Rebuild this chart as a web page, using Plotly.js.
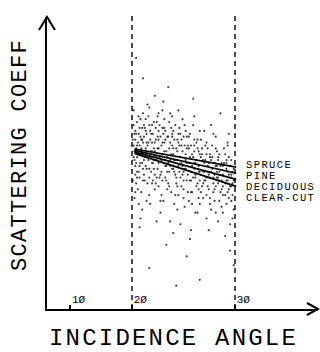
<!DOCTYPE html>
<html>
<head>
<meta charset="utf-8">
<script src="https://cdn.plot.ly/plotly-3.0.1.min.js"></script>
<style>
html,body{margin:0;padding:0;background:#fff;}
#chart{width:320px;height:352px;}
text.annotation-text{letter-spacing:1.4px;}
text.annotation-text[data-unformatted="INCIDENCE ANGLE"]{letter-spacing:2.2px;}
text.annotation-text[data-unformatted="SCATTERING COEFF"]{letter-spacing:1.3px;}
</style>
</head>
<body>
<div id="chart"></div>
<script>
// Tick positions (incidence angle, degrees) and labels
const tickAngles = [10, 20, 30];
const tickLabels = ['1Ø', '2Ø', '3Ø'];
const xTitle = 'INCIDENCE ANGLE';
const yTitle = 'SCATTERING COEFF';

// Regression lines: incidence angle endpoints and scattering coefficient (arbitrary units)
const lineAngles = [20.3, 30.1];
const seriesNames = ['SPRUCE', 'PINE', 'DECIDUOUS', 'CLEAR-CUT'];
const spruce = [54.8, 48.6];
const pine = [54.3, 46.5];
const deciduous = [53.8, 44.4];
const clearCut = [53.3, 42.0];
const labelCoeff = [49.3, 45.5, 41.7, 37.9];

// Scatter cloud of observations: [angle, coefficient]
const cloud = [
[20.2,63],[20.4,58],[20.3,51],[20.6,47],[20.1,44],[20.8,60],[20.5,55],[20.9,49],[20.7,41],[20.3,38],
[21.0,65],[20.6,52],[20.2,56],[20.9,45],[20.4,61],[20.8,36],[20.5,43],[21.1,58],[21.3,67],[21.2,50],
[21.4,46],[21.1,40],[21.5,62],[21.6,55],[21.3,53],[21.7,48],[21.4,59],[21.8,43],[21.6,65],[21.9,51],
[21.2,34],[21.7,57],[22.0,69],[22.1,61],[22.3,54],[22.2,47],[22.4,44],[22.0,39],[22.5,64],[22.6,57],
[22.3,50],[22.7,52],[22.4,60],[22.8,45],[22.6,41],[22.9,66],[22.1,36],[22.7,62],[22.9,55],[22.5,48],
[23.0,58],[23.1,63],[23.3,51],[23.2,46],[23.4,68],[23.0,42],[23.5,60],[23.6,54],[23.3,39],[23.7,49],
[23.4,57],[23.8,44],[23.6,65],[23.9,52],[23.2,33],[23.7,61],[23.9,47],[23.5,37],[24.0,59],[24.1,64],
[24.3,53],[24.2,49],[24.4,56],[24.0,43],[24.5,61],[24.6,51],[24.3,40],[24.7,46],[24.4,66],[24.8,55],
[24.6,36],[24.9,58],[24.2,30],[24.7,63],[24.9,42],[24.5,48],[25.0,57],[25.1,62],[25.3,50],[25.2,45],
[25.4,54],[25.0,39],[25.5,59],[25.6,48],[25.3,42],[25.7,53],[25.4,65],[25.8,44],[25.6,35],[25.9,56],
[25.2,29],[25.7,61],[25.9,40],[25.5,47],[26.0,55],[26.1,60],[26.3,49],[26.2,44],[26.4,52],[26.0,37],
[26.5,58],[26.6,46],[26.3,40],[26.7,51],[26.4,63],[26.8,43],[26.6,33],[26.9,54],[26.2,27],[26.7,57],
[26.9,38],[26.5,48],[27.0,53],[27.1,58],[27.3,47],[27.2,42],[27.4,50],[27.0,36],[27.5,56],[27.6,45],
[27.3,38],[27.7,49],[27.4,61],[27.8,41],[27.6,31],[27.9,52],[27.7,55],[27.9,36],[27.5,44],[28.0,51],
[28.1,56],[28.3,46],[28.2,40],[28.4,49],[28.0,34],[28.5,54],[28.6,43],[28.3,37],[28.7,47],[28.4,59],
[28.8,40],[28.6,30],[28.9,50],[28.7,53],[28.9,35],[28.5,45],[29.0,49],[29.1,55],[29.3,44],[29.2,39],
[29.4,47],[29.0,33],[29.5,52],[29.6,42],[29.3,36],[29.7,46],[29.4,57],[29.8,39],[29.6,29],[29.9,48],
[29.7,51],[29.9,34],[29.5,41],
[20.3,54],[20.7,57],[21.0,53],[21.4,51],[21.8,56],[22.2,52],[22.6,54],[23.0,50],[23.4,53],[23.8,49],
[24.2,51],[24.6,47],[25.0,49],[25.4,46],[25.8,50],[26.2,47],[26.6,45],[27.0,47],[27.4,44],[27.8,46],
[28.2,43],[28.6,45],[29.0,42],[29.4,44],[29.8,43],
[20.5,50],[20.9,56],[21.3,57],[21.7,54],[22.1,58],[22.5,51],[22.9,59],[23.3,56],[23.7,51],[24.1,55],
[24.5,53],[24.9,51],[25.3,56],[25.7,48],[26.1,52],[26.5,50],[26.9,49],[27.3,51],[27.7,47],[28.1,48],
[28.5,49],[28.9,44],[29.3,48],[29.7,45],
[20.4,46],[21.5,44],[22.3,43],[23.1,45],[23.9,41],[24.7,39],[25.5,41],[26.3,36],[27.1,40],[27.9,38],
[28.7,37],[29.5,38],
[20.6,64],[21.2,62],[22.0,63],[22.8,64],[23.6,62],[24.4,60],[25.2,60],[26.0,59],[26.8,58],[27.6,57],
[28.4,55],[29.2,53],
[20.2,68],[21.8,70],[23.5,71],[25.0,68],[26.5,66],[28.0,63],[29.5,60],
[21.0,31],[22.8,30],[24.5,26],[26.1,24],[27.8,27],[29.2,25],[23.8,22],[25.8,18],[29.6,20],[20.9,28],
[21.3,79],[22.6,73],[24.0,76],[26.4,72],[20.5,86],[28.8,67],[22.0,14],[27.0,10],[24.8,8],[29.9,15],
[20.1,58],[20.2,52],[20.4,49],[20.5,60],[20.6,56],[20.7,53],[20.8,47],[20.9,62],[21.0,50],[21.1,55],
[21.2,58],[21.3,48],[21.4,63],[21.5,52],[21.6,49],[21.7,60],[21.8,52],[21.9,57],[22.0,48],[22.1,54],
[22.2,60],[22.3,57],[22.4,50],[22.5,55],[22.6,46],[22.7,58],[22.8,51],[22.9,48],[23.0,55],[23.1,52],
[23.2,59],[23.3,47],[23.4,62],[23.5,50],[23.6,57],[23.7,45],[23.8,54],[23.9,59],[24.0,50],[24.1,47],
[24.2,57],[24.3,62],[24.4,48],[24.5,55],[24.6,58],[24.7,51],[24.8,45],[24.9,54],[25.0,60],[25.1,47],
[25.2,52],[25.3,58],[25.4,49],[25.5,44],[25.6,56],[25.7,51],[25.8,59],[25.9,46],[26.0,50],[26.1,44],
[26.2,56],[26.3,53],[26.4,45],[26.5,54],[26.6,50],[26.7,42],[26.8,55],[26.9,47],[27.0,44],[27.1,52],
[27.2,55],[27.3,43],[27.4,47],[27.5,51],[27.6,53],[27.7,42],[27.8,50],[27.9,45],[28.0,47],[28.1,52],
[28.2,45],[28.3,50],[28.4,42],[28.5,47],[28.6,51],[28.7,44],[28.8,49],[28.9,41],[29.0,46],[29.1,50],
[29.2,43],[29.3,51],[29.4,40],[29.5,46],[29.6,49],[29.7,42],[29.8,47],[29.9,44],
[20.3,60],[21.0,59],[21.6,61],[22.3,63],[23.0,61],[23.7,58],[24.4,59],[25.1,56],[25.8,55],[26.5,56],
[27.2,53],[27.9,53],[28.6,52],[29.3,50],
[20.6,45],[21.3,44],[22.0,45],[22.7,43],[23.4,44],[24.1,42],[24.8,43],[25.5,38],[26.2,40],[26.9,41],
[27.6,39],[28.3,41],[29.0,39],[29.7,37],
[20.8,66],[21.9,66],[23.0,67],[24.2,67],[25.6,63],[27.0,61],[28.2,60],[29.4,56],
[20.4,40],[21.7,37],[23.2,37],[24.9,34],[26.8,33],[28.4,33],[29.8,31]
];

// The hand-drawn axis is not linear in angle; tick spacing follows angle squared.
const toAxis = a => a * a;

const traces = [];
traces.push({
  x: cloud.map(p => toAxis(p[0])),
  y: cloud.map(p => p[1]),
  mode: 'markers',
  type: 'scatter',
  marker: {size: 2.2, color: '#222', opacity: 0.85},
  hoverinfo: 'skip',
  showlegend: false
});
const seriesVals = [spruce, pine, deciduous, clearCut];
seriesVals.forEach((vals, i) => {
  traces.push({
    x: lineAngles.map(toAxis),
    y: vals,
    mode: 'lines',
    type: 'scatter',
    name: seriesNames[i],
    line: {color: '#000', width: 1.7},
    showlegend: false
  });
});

const mono = 'Liberation Mono, DejaVu Sans Mono, monospace';

const annotations = seriesNames.map((n, i) => ({
  x: toAxis(30), y: labelCoeff[i], xref: 'x', yref: 'y',
  text: n, showarrow: false, xanchor: 'left', yanchor: 'middle', xshift: 9,
  font: {family: mono, size: 10.5, color: '#000'}
}));
// axis titles
annotations.push({
  x: 0.467, y: 0, xref: 'paper', yref: 'paper', yshift: -29,
  text: xTitle, showarrow: false, xanchor: 'center', yanchor: 'middle',
  font: {family: mono, size: 24, color: '#000'}
});
annotations.push({
  x: 0, y: 0.527, xref: 'paper', yref: 'paper', xshift: -27,
  text: yTitle, showarrow: false, xanchor: 'center', yanchor: 'middle', textangle: -90,
  font: {family: mono, size: 22, color: '#000'}
});

const layout = {
  width: 320,
  height: 352,
  margin: {l: 47, r: 2, t: 17, b: 43},
  paper_bgcolor: '#fff',
  plot_bgcolor: '#fff',
  showlegend: false,
  font: {family: mono, color: '#000'},
  xaxis: {
    range: [-12.6, 1303],
    tickvals: tickAngles.map(toAxis),
    ticktext: tickLabels,
    ticks: 'inside',
    ticklen: 4,
    tickwidth: 1.5,
    tickcolor: '#000',
    ticklabelposition: 'inside right',
    tickfont: {family: mono, size: 11, color: '#000'},
    showline: true,
    linecolor: '#000',
    linewidth: 2,
    showgrid: false,
    zeroline: false,
    fixedrange: true
  },
  yaxis: {
    range: [0, 100],
    showticklabels: false,
    ticks: '',
    showline: true,
    linecolor: '#000',
    linewidth: 2,
    showgrid: false,
    zeroline: false,
    fixedrange: true
  },
  shapes: [
    {type: 'line', xref: 'x', yref: 'paper', x0: toAxis(20), x1: toAxis(20), y0: 0, y1: 1.01,
     line: {color: '#000', width: 1.4, dash: '5px,4px'}},
    {type: 'line', xref: 'x', yref: 'paper', x0: toAxis(30), x1: toAxis(30), y0: 0, y1: 1.01,
     line: {color: '#000', width: 1.4, dash: '5px,4px'}},
    {type: 'path', xref: 'paper', yref: 'paper', xsizemode: 'pixel', ysizemode: 'pixel',
     xanchor: 0, yanchor: 1, path: 'M-8,-13 L0,0 L8,-13', line: {color: '#000', width: 2}},
    {type: 'path', xref: 'paper', yref: 'paper', xsizemode: 'pixel', ysizemode: 'pixel',
     xanchor: 1, yanchor: 0, path: 'M-11,6 L0,0 L-11,-6', line: {color: '#000', width: 2}}
  ],
  annotations: annotations
};

Plotly.newPlot('chart', traces, layout, {displayModeBar: false, staticPlot: true});
</script>
</body>
</html>
